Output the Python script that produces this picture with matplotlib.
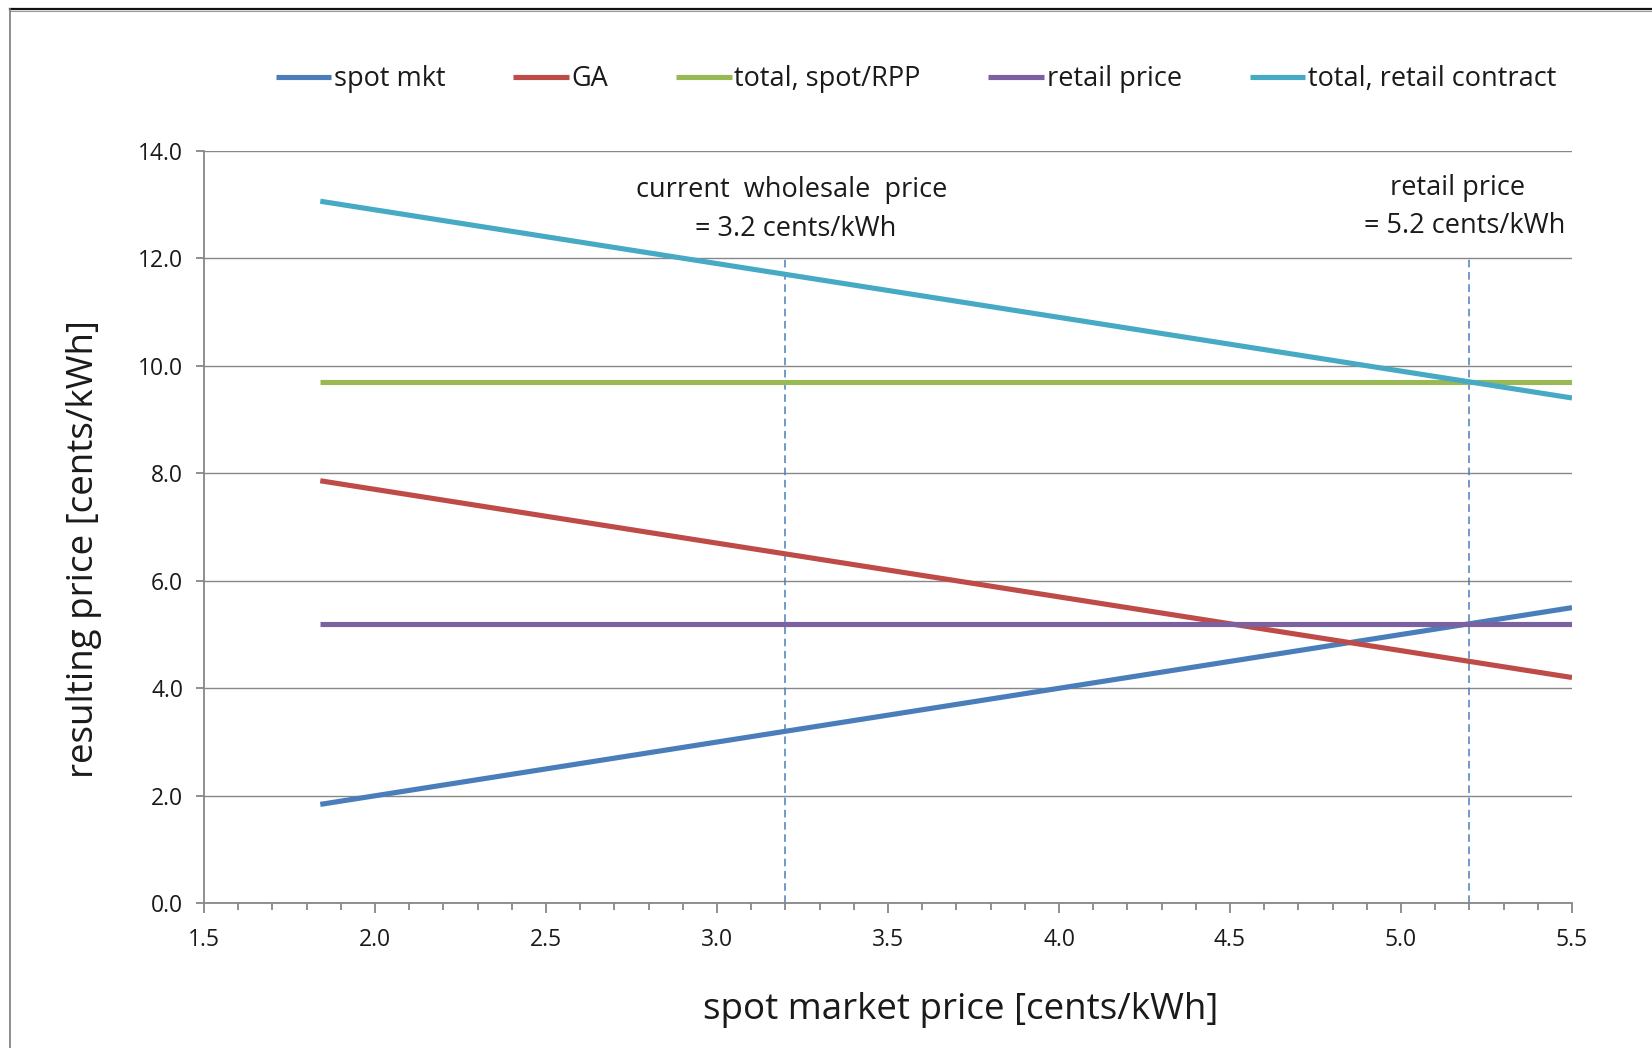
import matplotlib
matplotlib.use("Agg")
import matplotlib.pyplot as plt
from matplotlib.lines import Line2D
from matplotlib.ticker import MultipleLocator, FormatStrFormatter

plt.rcParams['font.family'] = ['Open Sans', 'DejaVu Sans']

# ---- data ----
spot_price = [1.84, 5.5]
spot_mkt = [1.84, 5.5]
ga = [7.86, 4.2]
total_spot_rpp = [9.7, 9.7]
retail_price = [5.2, 5.2]
total_retail = [13.06, 9.4]

series_names = ["spot mkt", "GA", "total, spot/RPP", "retail price", "total, retail contract"]
series_values = [spot_mkt, ga, total_spot_rpp, retail_price, total_retail]
series_colors = ["#4A7EBB", "#BE4B48", "#98B954", "#7D60A0", "#46AAC5"]

marker_x = [3.2, 5.2]
marker_top = 12.0
annot_lines = [("current  wholesale  price", "= 3.2 cents/kWh"),
               ("retail price", "= 5.2 cents/kWh")]

W, H = 1652, 1048
fig = plt.figure(figsize=(W / 100, H / 100), dpi=100)
ax = fig.add_axes([204 / W, 1 - 903.3 / H, (1572 - 204) / W, (903.3 - 150.7) / H])

grid_c = "#878787"
txt_c = "#1a1a1a"
ax.set_xlim(1.5, 5.5)
ax.set_ylim(0, 14)
ax.yaxis.set_major_locator(MultipleLocator(2))
ax.xaxis.set_major_locator(MultipleLocator(0.5))
ax.xaxis.set_minor_locator(MultipleLocator(0.1))
ax.yaxis.set_major_formatter(FormatStrFormatter("%.1f"))
ax.xaxis.set_major_formatter(FormatStrFormatter("%.1f"))
ax.grid(axis='y', color=grid_c, linewidth=1.0, zorder=0)
ax.set_axisbelow(True)
for s in ['top', 'right']:
    ax.spines[s].set_visible(False)
for s in ['left', 'bottom']:
    ax.spines[s].set_color(grid_c)
    ax.spines[s].set_linewidth(1.3)
ax.tick_params(axis='both', which='major', color=grid_c, width=1.3, labelsize=16.5,
               labelcolor=txt_c)
ax.tick_params(axis='x', which='major', length=7, pad=11)
ax.tick_params(axis='x', which='minor', length=5, color=grid_c, width=1.3)
ax.tick_params(axis='y', which='major', length=6, pad=9)

for name, vals, col in zip(series_names, series_values, series_colors):
    ax.plot(spot_price, vals, color=col, linewidth=3.7, label=name,
            solid_capstyle='butt', zorder=3)

for xv in marker_x:
    ax.plot([xv, xv], [0, marker_top], color="#4A7EBB", linewidth=1.1,
            dashes=(5, 3), zorder=2)

# annotations above the marker lines
fs_a = 19.5
ax.text(3.218, 13.27, annot_lines[0][0], ha='center', va='center', fontsize=fs_a, color=txt_c)
ax.text(3.23, 12.54, annot_lines[0][1], ha='center', va='center', fontsize=fs_a, color=txt_c)
ax.text(5.165, 13.31, annot_lines[1][0], ha='center', va='center', fontsize=fs_a, color=txt_c)
ax.text(5.185, 12.59, annot_lines[1][1], ha='center', va='center', fontsize=fs_a, color=txt_c)

ax.set_xlabel("spot market price [cents/kWh]", fontsize=26.5, color=txt_c, va='center')
ax.xaxis.set_label_coords(0.553, -0.142)
ax.set_ylabel("resulting price [cents/kWh]", fontsize=26.5, color=txt_c, va='center')
ax.yaxis.set_label_coords(-0.088, 0.471)

leg = fig.legend(loc='center', bbox_to_anchor=(916 / W, 1 - 79 / H), ncol=5, frameon=False,
                 fontsize=19.5, handlelength=2.05, handletextpad=0.1, columnspacing=2.5)
for t in leg.get_texts():
    t.set_color(txt_c)

# partial frame of the original chart area
fig.add_artist(Line2D([9.5 / W, 1.0], [1 - 9 / H, 1 - 9 / H], color="#111111", linewidth=1.6,
                      transform=fig.transFigure))
fig.add_artist(Line2D([9.5 / W, 1.0], [1 - 10.5 / H, 1 - 10.5 / H], color="#999999", linewidth=0.8,
                      transform=fig.transFigure))
fig.add_artist(Line2D([9.8 / W, 9.8 / W], [0, 1 - 9 / H], color="#7a7a7a", linewidth=1.2,
                      transform=fig.transFigure))

fig.savefig("out.png", dpi=100, facecolor="white")
